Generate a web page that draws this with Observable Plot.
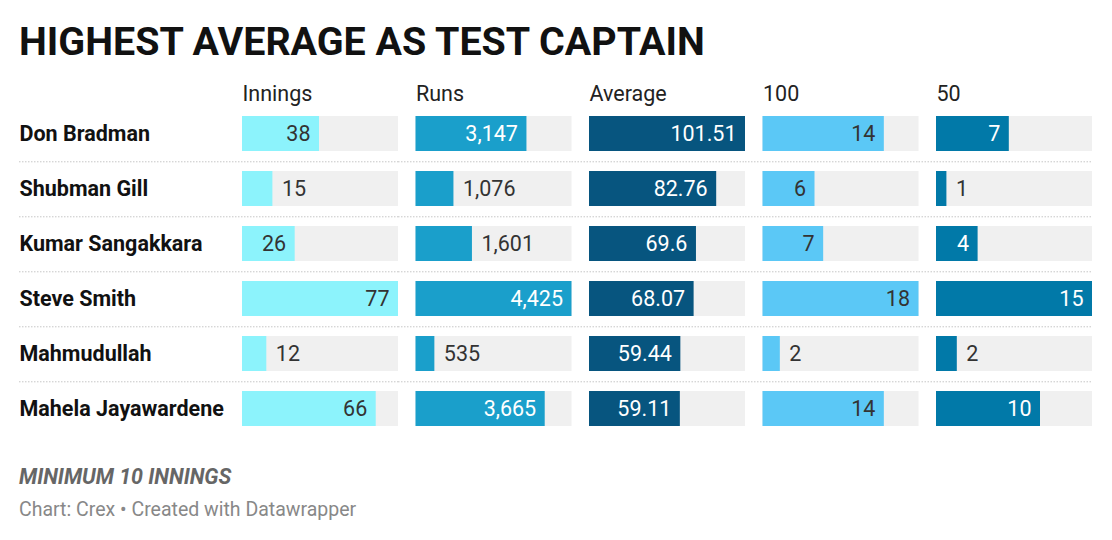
<!DOCTYPE html>
<html>
<head>
<meta charset="utf-8">
<script src="https://cdn.jsdelivr.net/npm/d3@7"></script>
<script src="https://cdn.jsdelivr.net/npm/@observablehq/plot@0.6"></script>
<style>
  html, body { margin: 0; padding: 0; background: #fff; }
  body { width: 1112px; height: 540px; position: relative; font-family: Roboto, sans-serif; overflow: hidden; }
  #title { position: absolute; left: 19px; top: 22px; font-size: 39.4px; line-height: 1; font-weight: 700; color: #111; white-space: nowrap; }
  #chart { position: absolute; left: 0; top: 60px; }
  #note { position: absolute; left: 19px; top: 466px; font-size: 21.4px; line-height: 1; font-weight: 700; font-style: italic; color: #666; }
  #credit { position: absolute; left: 19px; top: 500px; font-size: 19.5px; line-height: 1; color: #888; }
</style>
</head>
<body>
<div id="title">HIGHEST AVERAGE AS TEST CAPTAIN</div>
<div id="chart"></div>
<div id="note">MINIMUM 10 INNINGS</div>
<div id="credit">Chart: Crex • Created with Datawrapper</div>
<script>
const players = ["Don Bradman", "Shubman Gill", "Kumar Sangakkara", "Steve Smith", "Mahmudullah", "Mahela Jayawardene"];
const metrics = ["Innings", "Runs", "Average", "100", "50"];
const innings = [38, 15, 26, 77, 12, 66];
const runs = [3147, 1076, 1601, 4425, 535, 3665];
const average = [101.51, 82.76, 69.6, 68.07, 59.44, 59.11];
const hundreds = [14, 6, 7, 18, 2, 14];
const fifties = [7, 1, 4, 15, 2, 10];
const barColors = ["#8cf3fc", "#1a9fcb", "#07557f", "#5bc8f6", "#0179a8"];
const insideText = ["#333", "#fff", "#fff", "#333", "#fff"];

const series = [innings, runs, average, hundreds, fifties];
const fmt = [d3.format(","), d3.format(","), String, String, String];
const colWidth = 156;

const data = [];
metrics.forEach((m, mi) => {
  const max = d3.max(series[mi]);
  players.forEach((p, pi) => {
    const value = series[mi][pi];
    const frac = value / max;
    const label = fmt[mi](value);
    const textW = label.replace(/[,.]/g, "").length * 11 + (label.match(/[,.]/g) || []).length * 5;
    data.push({player: p, metric: m, value, frac, label, inside: frac * colWidth > textW + 12, color: barColors[mi], tcolor: insideText[mi]});
  });
});

const bounds = [];
metrics.forEach(m => players.slice(0, -1).forEach(p => bounds.push({metric: m, player: p})));

const step = 55.58;
const fs = 21.5;

const chart = Plot.plot({
  width: 1112,
  height: 390,
  marginLeft: 242,
  marginRight: 20,
  marginTop: 44.5,
  marginBottom: 12,
  style: {fontFamily: "Roboto, sans-serif", fontSize: fs + "px", background: "transparent"},
  fx: {domain: metrics, paddingInner: 17.5 / 173.5, paddingOuter: 0, round: false, axis: null, label: null},
  x: {domain: [0, 1], axis: null},
  y: {domain: players, paddingInner: 0.37, paddingOuter: 0.185, axis: null},
  color: {type: "identity"},
  marks: [
    Plot.ruleY(bounds.filter(d => d.metric === metrics[0]), {fx: "metric", y: "player", dy: step / 2, insetLeft: -223, stroke: "#c6c6c6", strokeDasharray: "1.5,1.5", strokeWidth: 1}),
    Plot.ruleY(bounds.filter(d => d.metric !== metrics[0]), {fx: "metric", y: "player", dy: step / 2, insetLeft: -17.5, stroke: "#c6c6c6", strokeDasharray: "1.5,1.5", strokeWidth: 1}),
    Plot.barX(data, {fx: "metric", y: "player", x1: 0, x2: 1, fill: "#f0f0f0"}),
    Plot.barX(data, {fx: "metric", y: "player", x1: 0, x2: "frac", fill: "color"}),
    Plot.text(data.filter(d => d.inside), {fx: "metric", y: "player", x: "frac", text: "label", textAnchor: "end", dx: -9, fill: "tcolor", fontSize: fs}),
    Plot.text(data.filter(d => !d.inside), {fx: "metric", y: "player", x: "frac", text: "label", textAnchor: "start", dx: 9, fill: "#333", fontSize: fs}),
    Plot.text(metrics, {fx: d => d, text: d => d, frameAnchor: "top-left", lineAnchor: "bottom", dy: -4.5, fill: "#222", fontSize: fs}),
    Plot.text(players, {fx: () => metrics[0], y: d => d, text: d => d, frameAnchor: "left", textAnchor: "start", dx: -223, fontWeight: 700, fill: "#111", fontSize: fs})
  ]
});
document.getElementById("chart").appendChild(chart);
</script>
</body>
</html>
